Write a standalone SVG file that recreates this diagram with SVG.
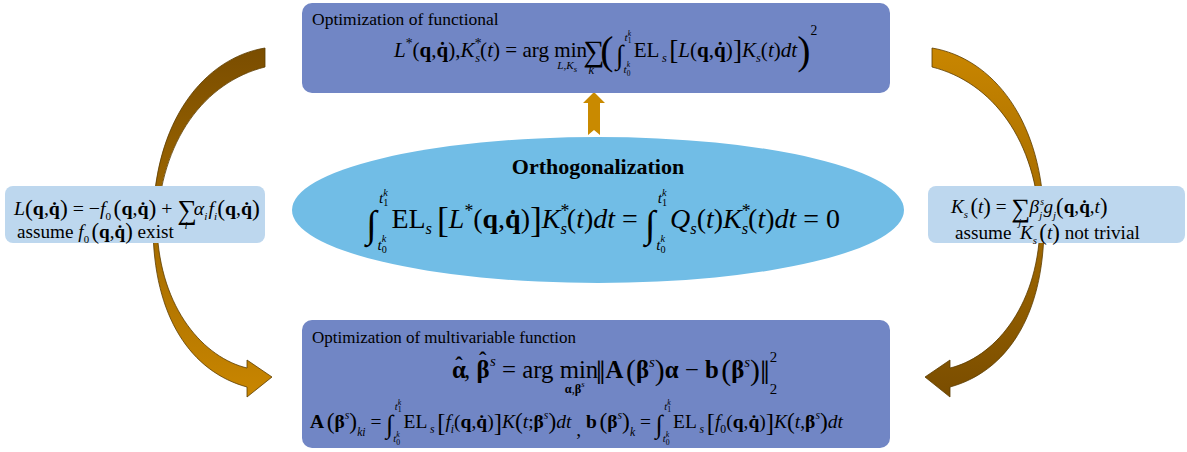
<svg xmlns="http://www.w3.org/2000/svg" width="1187" height="452" viewBox="0 0 1187 452">
<style>
.m{font-family:"Liberation Serif","Times New Roman",serif;fill:#000}
.i{font-style:italic}
.b{font-weight:bold}
.blk{fill:#7186C5}
.side{fill:#BDD7EE}
.arw{stroke:#5C3C00;stroke-width:0.8}
</style>
<defs>
<linearGradient id="gL" x1="0" y1="48" x2="0" y2="397" gradientUnits="userSpaceOnUse">
<stop offset="0" stop-color="#7A4D00"/><stop offset="1" stop-color="#C98600"/>
</linearGradient>
<linearGradient id="gR" x1="0" y1="48" x2="0" y2="397" gradientUnits="userSpaceOnUse">
<stop offset="0" stop-color="#C98600"/><stop offset="1" stop-color="#7A4D00"/>
</linearGradient>
</defs>

<g id="connectors">
<path id="arrow-left" class="arw" fill="url(#gL)" d="M265,48 C205,58 153,120 153,225 C153,318 192,372 247,387 L247,397 L272,377 L247,360 L247,368 C205,358 160,310 157,228 C160,140 205,82 265,67 Z"/>
<path id="arrow-right" class="arw" fill="url(#gR)" transform="translate(1197,0) scale(-1,1)" d="M265,48 C205,58 153,120 153,225 C153,318 192,372 247,387 L247,397 L272,377 L247,360 L247,368 C205,358 160,310 157,228 C160,140 205,82 265,67 Z"/>
<polygon id="arrow-up" fill="#C98A00" points="594,92 605,103 600,103 600,135 594,130 588,135 588,103 583,103"/>
</g>

<g id="node-top">
<rect class="blk" x="302" y="3" width="588" height="90" rx="10"/>
<text class="m" x="312" y="25" font-size="17.5">Optimization of functional</text>
<g transform="translate(394 57) scale(1.24) translate(-398 -58)">
<text class="m" font-size="17" x="398" y="58"><tspan class="i">L</tspan><tspan font-size="11" y="51">*</tspan><tspan y="58">(</tspan><tspan class="b">q</tspan>,<tspan class="b">q̇</tspan>),<tspan class="i">K</tspan><tspan font-size="11" y="51">*</tspan><tspan font-size="10" class="i" dx="-5" y="62">s</tspan><tspan y="58">(</tspan><tspan class="i">t</tspan>) = arg min<tspan font-size="9" class="i" dx="-24" y="68">L</tspan><tspan font-size="9" y="68">,</tspan><tspan font-size="9" class="i">K</tspan><tspan font-size="7" class="i" y="70">s</tspan><tspan font-size="24" dx="5" y="61">∑</tspan><tspan font-size="10" class="i" dx="-13" y="72">k</tspan><tspan font-size="32" dx="5" y="64">(</tspan><tspan font-size="22" dx="2" y="64">∫</tspan><tspan font-size="9" class="i" dx="1" y="45">t</tspan><tspan font-size="6" y="47">1</tspan><tspan font-size="6" class="i" dx="-3" y="41">k</tspan><tspan font-size="9" class="i" dx="-6" y="71">t</tspan><tspan font-size="6" y="73">0</tspan><tspan font-size="6" class="i" dx="-3" y="66">k</tspan><tspan dx="3" y="58">EL</tspan><tspan font-size="10" class="i" dx="2" y="62">s</tspan><tspan font-size="22" dx="2" y="60">[</tspan><tspan class="i" y="58">L</tspan><tspan>(</tspan><tspan class="b">q</tspan>,<tspan class="b">q̇</tspan>)<tspan font-size="22" y="60">]</tspan><tspan class="i" y="58">K</tspan><tspan font-size="10" class="i" y="62">s</tspan><tspan y="58">(</tspan><tspan class="i">t</tspan>)<tspan class="i">dt</tspan><tspan font-size="32" y="64">)</tspan><tspan font-size="11" y="40">2</tspan></text>
</g>
</g>

<g id="node-ortho">
<ellipse cx="598" cy="210" rx="306" ry="73" fill="#71BDE6"/>
<text class="m b" x="598" y="174" font-size="22" text-anchor="middle">Orthogonalization</text>
<g transform="translate(366 228) scale(1.27) translate(-366 -228)">
<text class="m" font-size="22" x="366" y="228"><tspan font-size="30" y="235">∫</tspan><tspan font-size="12" class="i" dx="2" y="208">t</tspan><tspan font-size="8" y="211">1</tspan><tspan font-size="8" class="i" dx="-4" y="203">k</tspan><tspan font-size="12" class="i" dx="-8" y="245">t</tspan><tspan font-size="8" y="248">0</tspan><tspan font-size="8" class="i" dx="-4" y="239">k</tspan><tspan dx="4" y="228">EL</tspan><tspan font-size="13" class="i" y="233">s</tspan><tspan font-size="28" dx="4" y="231">[</tspan><tspan class="i" y="228">L</tspan><tspan font-size="14" y="219">*</tspan><tspan y="228">(</tspan><tspan class="b">q</tspan>,<tspan class="b">q̇</tspan>)<tspan font-size="28" y="231">]</tspan><tspan class="i" y="228">K</tspan><tspan font-size="14" y="219">*</tspan><tspan font-size="13" class="i" dx="-7" y="233">s</tspan><tspan y="228">(</tspan><tspan class="i">t</tspan>)<tspan class="i">dt</tspan> = <tspan font-size="30" y="235">∫</tspan><tspan font-size="12" class="i" dx="2" y="208">t</tspan><tspan font-size="8" y="211">1</tspan><tspan font-size="8" class="i" dx="-4" y="203">k</tspan><tspan font-size="12" class="i" dx="-8" y="245">t</tspan><tspan font-size="8" y="248">0</tspan><tspan font-size="8" class="i" dx="-4" y="239">k</tspan><tspan class="i" dx="4" y="228">Q</tspan><tspan font-size="13" class="i" y="233">s</tspan><tspan y="228">(</tspan><tspan class="i">t</tspan>)<tspan class="i">K</tspan><tspan font-size="14" y="219">*</tspan><tspan font-size="13" class="i" dx="-7" y="233">s</tspan><tspan y="228">(</tspan><tspan class="i">t</tspan>)<tspan class="i">dt</tspan> = 0</text>
</g>
</g>

<g id="node-left">
<rect class="side" x="5" y="186" width="260" height="57" rx="8"/>
<g transform="translate(14 215) scale(1.24) translate(-14 -215)">
<text class="m" font-size="16" x="14" y="215"><tspan class="i">L</tspan><tspan font-size="19" y="216">(</tspan><tspan class="b" y="215">q</tspan>,<tspan class="b">q̇</tspan><tspan font-size="19" y="216">)</tspan><tspan y="215"> = −</tspan><tspan class="i">f</tspan><tspan font-size="9" y="219">0</tspan><tspan font-size="19" dx="2" y="216">(</tspan><tspan class="b" y="215">q</tspan>,<tspan class="b">q̇</tspan><tspan font-size="19" y="216">)</tspan><tspan y="215"> + </tspan><tspan font-size="22" y="218">∑</tspan><tspan font-size="9" class="i" dx="-10" y="226">i</tspan><tspan class="i" dx="5" y="215">α</tspan><tspan font-size="9" class="i" y="219">i</tspan><tspan class="i" dx="1" y="215">f</tspan><tspan font-size="9" class="i" y="219">i</tspan><tspan font-size="19" y="216">(</tspan><tspan class="b" y="215">q</tspan>,<tspan class="b">q̇</tspan><tspan font-size="19" y="216">)</tspan></text>
</g>
<g transform="translate(17 238) scale(1.2) translate(-17 -238)">
<text class="m" font-size="16" x="17" y="238">assume <tspan class="i">f</tspan><tspan font-size="9" y="242">0</tspan><tspan font-size="19" dx="2" y="239">(</tspan><tspan class="b" y="238">q</tspan>,<tspan class="b">q̇</tspan><tspan font-size="19" y="239">)</tspan><tspan y="238"> exist</tspan></text>
</g>
</g>

<g id="node-right">
<rect class="side" x="928" y="186" width="257" height="57" rx="8"/>
<g transform="translate(951 213) scale(1.2) translate(-951 -214)">
<text class="m" font-size="16" x="951" y="214"><tspan class="i">K</tspan><tspan font-size="9" class="i" y="218">s</tspan><tspan font-size="19" dx="2" y="215">(</tspan><tspan class="i" y="214">t</tspan><tspan font-size="19" y="215">)</tspan><tspan y="214"> = </tspan><tspan font-size="22" y="217">∑</tspan><tspan font-size="9" class="i" dx="-10" y="225">j</tspan><tspan class="i" dx="7" y="214">β</tspan><tspan font-size="8" class="i" dx="1" y="207">s</tspan><tspan font-size="9" class="i" dx="-4" y="219">j</tspan><tspan class="i" dx="1" y="214">g</tspan><tspan font-size="9" class="i" y="219">j</tspan><tspan font-size="19" y="215">(</tspan><tspan class="b" y="214">q</tspan>,<tspan class="b">q̇</tspan>,<tspan class="i">t</tspan><tspan font-size="19" y="215">)</tspan></text>
</g>
<g transform="translate(955 239) scale(1.2) translate(-955 -238)">
<text class="m" font-size="16" x="955" y="238">assume <tspan class="i" dx="3">K</tspan><tspan font-size="9" class="i" y="242">s</tspan><tspan font-size="19" dx="2" y="239">(</tspan><tspan class="i" y="238">t</tspan><tspan font-size="19" y="239">)</tspan><tspan y="238"> not trivial</tspan></text>
</g>
</g>

<g id="node-bottom">
<rect class="blk" x="302" y="320" width="588" height="128" rx="10"/>
<text class="m" x="312" y="343" font-size="17">Optimization of multivariable function</text>
<g transform="translate(452 378) scale(1.24) translate(-457 -378)">
<text class="m" font-size="20" x="457" y="378"><tspan class="b">α</tspan><tspan class="b" dx="-8.5" y="374" font-size="18">ˆ</tspan><tspan dx="1" y="378">, </tspan><tspan class="b">β</tspan><tspan class="b" dx="-8.5" y="370" font-size="18">ˆ</tspan><tspan font-size="12" class="i" dx="3" y="368">s</tspan><tspan y="378"> = arg min</tspan><tspan font-size="10" class="b" dx="-27" y="390">α</tspan><tspan font-size="10" y="390">,</tspan><tspan font-size="10" class="b">β</tspan><tspan font-size="7" class="i" y="385">s</tspan><tspan font-size="28" dx="9" y="383">‖</tspan><tspan class="b" y="378">A</tspan><tspan font-size="24" dx="2" y="380">(</tspan><tspan class="b" y="378">β</tspan><tspan font-size="12" class="i" y="369">s</tspan><tspan font-size="24" y="380">)</tspan><tspan class="b" y="378">α</tspan> − <tspan class="b">b</tspan><tspan font-size="24" dx="2" y="380">(</tspan><tspan class="b" y="378">β</tspan><tspan font-size="12" class="i" y="369">s</tspan><tspan font-size="24" y="380">)</tspan><tspan font-size="28" y="383">‖</tspan><tspan font-size="12" y="391">2</tspan><tspan font-size="12" dx="-6" y="365">2</tspan></text>
</g>
<g transform="translate(310 428) scale(1.3) translate(-310 -429)">
<text class="m" font-size="15" x="310" y="429"><tspan class="b">A</tspan><tspan font-size="18" dx="2" y="430">(</tspan><tspan class="b" y="429">β</tspan><tspan font-size="9" class="i" y="422">s</tspan><tspan font-size="18" y="430">)</tspan><tspan font-size="9" class="i" y="435">ki</tspan><tspan y="429"> = </tspan><tspan font-size="20" y="433">∫</tspan><tspan font-size="8" class="i" dx="1" y="415">t</tspan><tspan font-size="6" y="417">1</tspan><tspan font-size="6" class="i" dx="-3" y="411">k</tspan><tspan font-size="8" class="i" dx="-6" y="440">t</tspan><tspan font-size="6" y="442">0</tspan><tspan font-size="6" class="i" dx="-3" y="436">k</tspan><tspan dx="3" y="429">EL</tspan><tspan font-size="9" class="i" dx="2" y="433">s</tspan><tspan font-size="19" dx="2" y="431">[</tspan><tspan class="i" y="429">f</tspan><tspan font-size="9" class="i" y="433">i</tspan><tspan y="429">(</tspan><tspan class="b">q</tspan>,<tspan class="b">q̇</tspan>)<tspan font-size="19" y="431">]</tspan><tspan class="i" y="429">K</tspan><tspan font-size="18" y="430">(</tspan><tspan class="i" y="429">t</tspan>;<tspan class="b">β</tspan><tspan font-size="9" class="i" y="422">s</tspan><tspan font-size="18" y="430">)</tspan><tspan class="i" y="429">dt</tspan><tspan y="435"> , </tspan><tspan class="b" y="429">b</tspan><tspan font-size="18" dx="2" y="430">(</tspan><tspan class="b" y="429">β</tspan><tspan font-size="9" class="i" y="422">s</tspan><tspan font-size="18" y="430">)</tspan><tspan font-size="9" class="i" y="435">k</tspan><tspan y="429"> = </tspan><tspan font-size="20" y="433">∫</tspan><tspan font-size="8" class="i" dx="1" y="415">t</tspan><tspan font-size="6" y="417">1</tspan><tspan font-size="6" class="i" dx="-3" y="411">k</tspan><tspan font-size="8" class="i" dx="-6" y="440">t</tspan><tspan font-size="6" y="442">0</tspan><tspan font-size="6" class="i" dx="-3" y="436">k</tspan><tspan dx="3" y="429">EL</tspan><tspan font-size="9" class="i" dx="2" y="433">s</tspan><tspan font-size="19" dx="2" y="431">[</tspan><tspan class="i" y="429">f</tspan><tspan font-size="9" y="433">0</tspan><tspan y="429">(</tspan><tspan class="b">q</tspan>,<tspan class="b">q̇</tspan>)<tspan font-size="19" y="431">]</tspan><tspan class="i" y="429">K</tspan><tspan font-size="18" y="430">(</tspan><tspan class="i" y="429">t</tspan>,<tspan class="b">β</tspan><tspan font-size="9" class="i" y="422">s</tspan><tspan font-size="18" y="430">)</tspan><tspan class="i" y="429">dt</tspan></text>
</g>
</g>
</svg>
